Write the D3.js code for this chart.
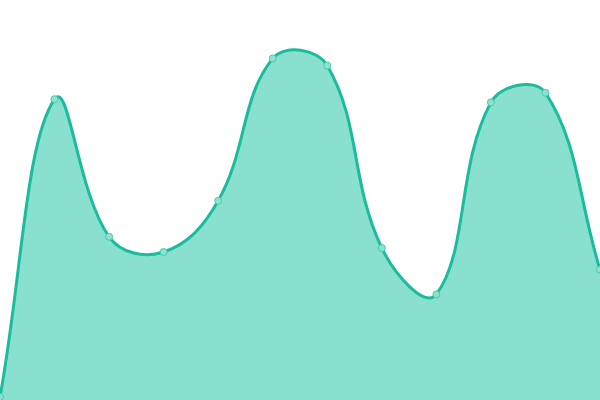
<!DOCTYPE html>
<html>
<head>
<meta charset="utf-8">
<script src="https://cdn.jsdelivr.net/npm/d3@7"></script>
<style>
  html, body { margin: 0; padding: 0; background: #fff; }
  svg { display: block; }
</style>
</head>
<body>
<div id="chart"></div>
<script>
var w = 600,
    h = 400;

// one value per step
var steps = [0, 1, 2, 3, 4, 5, 6, 7, 8, 9, 10, 11];
var values = [0.8, 75.2, 40.8, 37, 49.8, 85.4, 83.6, 38, 26.4, 74.4, 76.8, 32.6];

var data = steps.map(function(s, i) {
  return { step: s, value: values[i] };
});

/*
 * Spline that scales each tangent by the distance to the neighbours,
 * so short segments near peaks don't overshoot much (tension 0.4).
 */
function SplineCurve(context) {
  this._context = context;
}

SplineCurve.prototype = {
  areaStart: function() { this._line = 0; },
  areaEnd: function() { this._line = NaN; },
  lineStart: function() { this._x = []; this._y = []; },
  point: function(px, py) { this._x.push(+px); this._y.push(+py); },
  lineEnd: function() {
    var xs = this._x, ys = this._y, n = xs.length, t = 0.4;
    var c1 = [], c2 = [];

    for (var i = 0; i < n; i++) {
      var pi = Math.max(i - 1, 0),
          ni = Math.min(i + 1, n - 1);
      var d01 = Math.hypot(xs[i] - xs[pi], ys[i] - ys[pi]),
          d12 = Math.hypot(xs[ni] - xs[i], ys[ni] - ys[i]);
      var s01 = d01 / (d01 + d12) || 0,
          s12 = d12 / (d01 + d12) || 0;
      var dx = xs[ni] - xs[pi],
          dy = ys[ni] - ys[pi];
      c1.push([xs[i] - t * s01 * dx, ys[i] - t * s01 * dy]);
      c2.push([xs[i] + t * s12 * dx, ys[i] + t * s12 * dy]);
    }

    if (n) {
      if (this._line) this._context.lineTo(xs[0], ys[0]);
      else this._context.moveTo(xs[0], ys[0]);
    }
    for (var j = 1; j < n; j++) {
      this._context.bezierCurveTo(c2[j - 1][0], c2[j - 1][1], c1[j][0], c1[j][1], xs[j], ys[j]);
    }

    if (this._line || (this._line !== 0 && n === 1)) this._context.closePath();
    this._line = 1 - this._line;
  }
};

function curveSpline(context) {
  return new SplineCurve(context);
}

var x = d3.scaleLinear()
          .domain([0, steps.length - 1])
          .range([0, w]);

var y = d3.scaleLinear()
          .domain([0, 100])
          .range([h, 0]);

var svg = d3.select("#chart")
            .append("svg")
            .attr("width", w)
            .attr("height", h);

var area = d3.area()
             .x(function(d) { return x(d.step); })
             .y0(h)
             .y1(function(d) { return y(d.value); })
             .curve(curveSpline);

var line = d3.line()
             .x(function(d) { return x(d.step); })
             .y(function(d) { return y(d.value); })
             .curve(curveSpline);

svg.append("path")
   .datum(data)
   .attr("d", area)
   .style("fill", "#89e0ce");

svg.append("path")
   .datum(data)
   .attr("d", line)
   .style("fill", "none")
   .style("stroke", "#1abc9c")
   .style("stroke-width", 3);

svg.selectAll("circle.point")
   .data(data)
   .enter()
   .append("circle")
   .attr("class", "point")
   .attr("cx", function(d) { return x(d.step); })
   .attr("cy", function(d) { return y(d.value); })
   .attr("r", 3.5)
   .style("fill", "#8fe2d1")
   .style("stroke", "#48c9ad")
   .style("stroke-width", 1);
</script>
</body>
</html>
